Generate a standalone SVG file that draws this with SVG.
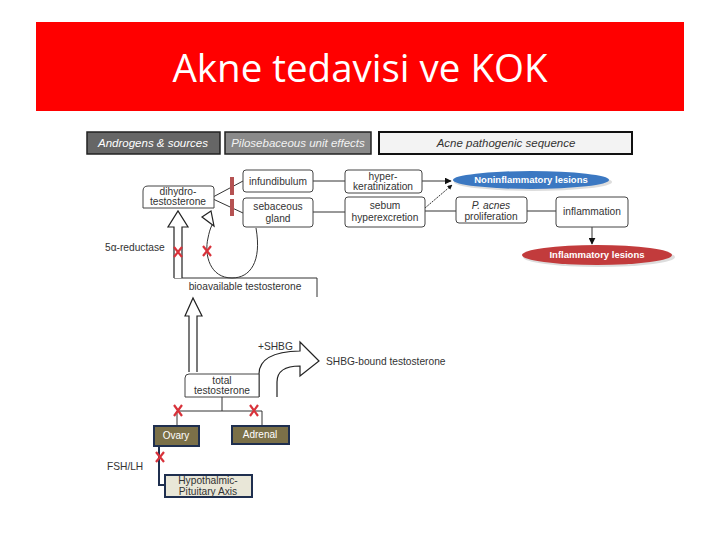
<svg xmlns="http://www.w3.org/2000/svg" width="720" height="540" viewBox="0 0 720 540">
<style>
.t{font-family:"Liberation Sans",Arial,sans-serif;font-size:10.2px;fill:#333;text-anchor:middle}
.tl{font-family:"Liberation Sans",Arial,sans-serif;font-size:10.2px;fill:#333}
.box{fill:#fff;stroke:#444;stroke-width:1}
.hdr{font-family:"Liberation Sans",Arial,sans-serif;font-size:11.5px;font-style:italic;text-anchor:middle}
.ln{fill:none;stroke:#333;stroke-width:1}
.hol{fill:#fff;stroke:#222;stroke-width:1.2}
.x{stroke:#d8323a;stroke-width:2.2;fill:none}
.ol{fill:#7b7048;stroke:#1f2f4f;stroke-width:2}
.ow{font-family:"Liberation Sans",Arial,sans-serif;font-size:10px;fill:#fff;text-anchor:middle}
.el{font-family:"Liberation Sans",Arial,sans-serif;font-size:9.5px;font-weight:bold;fill:#fff;text-anchor:middle}
</style>
<defs>
<marker id="ah" viewBox="0 0 10 10" refX="9" refY="5" markerWidth="7" markerHeight="7" orient="auto"><path d="M0,0 L10,5 L0,10 z" fill="#111"/></marker>
<marker id="ah2" viewBox="0 0 10 10" refX="9" refY="5" markerWidth="5" markerHeight="5" orient="auto"><path d="M0,0 L10,5 L0,10 z" fill="#111"/></marker>
</defs>
<rect width="720" height="540" fill="#fff"/>
<g id="title">
<rect x="36" y="22" width="648" height="89" fill="#ff0000"/>
<text x="360" y="82" font-family="'Open Sans','Noto Sans',sans-serif" font-size="38.5" fill="#fff" text-anchor="middle">Akne tedavisi ve KOK</text>
</g>
<g id="hdr-androgens"><rect x="87" y="132" width="133" height="22" fill="#666" stroke="#222" stroke-width="1.5"/><text class="hdr" x="153" y="147" fill="#fff">Androgens &amp; sources</text></g>
<g id="hdr-pilo"><rect x="225" y="132" width="146" height="22" fill="#8a8a8a" stroke="#222" stroke-width="1.5"/><text class="hdr" x="298" y="147" fill="#f2f2f2">Pilosebaceous unit effects</text></g>
<g id="hdr-acne"><rect x="379" y="132" width="253" height="22" fill="#f3f3f3" stroke="#111" stroke-width="2"/><text class="hdr" x="506" y="147" fill="#333">Acne pathogenic sequence</text></g>

<g id="connectors">
<line class="ln" x1="213" y1="197" x2="243" y2="181"/>
<line class="ln" x1="213" y1="199" x2="243" y2="213"/>
<line class="ln" x1="313" y1="181" x2="345" y2="181"/>
<line class="ln" x1="313" y1="212" x2="345" y2="212"/>
<line class="ln" x1="422" y1="181" x2="451" y2="181" marker-end="url(#ah)"/>
<line class="ln" x1="425" y1="208" x2="452" y2="185" stroke-dasharray="2,1" marker-end="url(#ah2)"/>
<line class="ln" x1="425" y1="211" x2="456" y2="211"/>
<line class="ln" x1="527" y1="211" x2="556" y2="211"/>
<line class="ln" x1="592" y1="227" x2="592" y2="244" marker-end="url(#ah)"/>
<path class="ln" d="M174,278 L317,278 L317,297"/>
<path class="hol" d="M174,278 L174,227 L168,227 L178,211 L188,227 L182,227 L182,278"/>
<path class="ln" d="M256,228 C262,262 250,278 232,278 C210,278 204,255 208,238 C209,233 210,229 212,225"/>
<path class="hol" d="M202,217 L211,211 L214,226 z"/>
<path class="hol" d="M189,372 L189,316 L185,316 L193,298 L202,316 L197,316 L197,372"/>
<path class="hol" d="M259,397 L259,374 Q259,352 300,351 L300,342 L319,361 L300,376 L300,366 Q277,366 277,382 L277,397"/>
<path class="ln" d="M222,397 L222,411 M177,411 L262,411 M177,411 L177,426 M262,411 L262,426" stroke="#1f2f4f"/>
<path d="M159,446 L159,485 L165,485" fill="none" stroke="#1f2f4f" stroke-width="2"/>
</g>

<g id="bars"><rect x="230" y="177" width="4" height="18" fill="#b55252"/><rect x="230" y="199" width="4" height="17" fill="#b55252"/></g>
<g id="xs">
<path class="x" d="M174,247 L182,257 M182,247 L174,257"/>
<path class="x" d="M203,246 L211,256 M211,246 L203,256"/>
<path class="x" d="M174,405 L182,416 M182,405 L174,416"/>
<path class="x" d="M250,405 L258,416 M258,405 L250,416"/>
<path class="x" d="M156,452 L164,462 M164,452 L156,462"/>
</g>

<g id="dht"><path class="box" d="M148,186 L211,186 Q214,186 214,189 L214,208 L143,208 L143,191 Q143,186 148,186 z"/><text class="t" x="178" y="195">dihydro-</text><text class="t" x="178" y="205">testosterone</text></g>
<g id="infundibulum"><rect class="box" x="243" y="170" width="70" height="22" rx="3"/><text class="t" x="278" y="185">infundibulum</text></g>
<g id="sebaceous"><rect class="box" x="243" y="198" width="70" height="29" rx="3"/><text class="t" x="278" y="210">sebaceous</text><text class="t" x="278" y="222">gland</text></g>
<g id="hyperk"><rect class="box" x="345" y="170" width="77" height="23" rx="3"/><text class="t" x="383" y="180">hyper-</text><text class="t" x="383" y="190">keratinization</text></g>
<g id="sebum"><rect class="box" x="345" y="197" width="80" height="30" rx="3" stroke="#999"/><text class="t" x="385" y="209">sebum</text><text class="t" x="385" y="221">hyperexcretion</text></g>
<g id="nonin"><ellipse cx="533" cy="182" rx="79" ry="9" fill="#bbb" opacity="0.5"/><ellipse cx="531" cy="180" rx="78" ry="9" fill="#3b78c2"/><text class="el" x="531" y="183">Noninflammatory lesions</text></g>
<g id="pacnes"><rect class="box" x="456" y="197" width="71" height="26" rx="3"/><text class="t" x="491" y="209"><tspan font-style="italic">P. acnes</tspan></text><text class="t" x="491" y="220">proliferation</text></g>
<g id="inflammation"><rect class="box" x="556" y="197" width="72" height="30" rx="3"/><text class="t" x="592" y="215">inflammation</text></g>
<g id="infl-lesions"><ellipse cx="599" cy="257" rx="76" ry="10" fill="#bbb" opacity="0.5"/><ellipse cx="597" cy="255" rx="75" ry="10" fill="#c23b3c"/><text class="el" x="597" y="258">Inflammatory lesions</text></g>
<g id="reductase"><text class="tl" x="105" y="251">5α-reductase</text></g>
<g id="bioavailable"><text class="t" x="245" y="290">bioavailable testosterone</text></g>
<g id="total"><path class="box" d="M189,374 L259,374 L259,397 L185,397 L185,378 Q185,374 189,374 z"/><text class="t" x="222" y="384">total</text><text class="t" x="222" y="394">testosterone</text></g>
<g id="shbg"><text class="tl" x="258" y="350">+SHBG</text><text class="tl" x="326" y="365">SHBG-bound testosterone</text></g>
<g id="ovary"><rect class="ol" x="154" y="426" width="45" height="20"/><text class="ow" x="176" y="439">Ovary</text></g>
<g id="adrenal"><rect class="ol" x="232" y="426" width="57" height="18"/><text class="ow" x="260" y="438">Adrenal</text></g>
<g id="fshlh"><text class="tl" x="107" y="470">FSH/LH</text></g>
<g id="hpa"><rect x="165" y="475" width="87" height="22" fill="#e9e7d8" stroke="#1f2f4f" stroke-width="2"/><text class="t" x="208" y="484">Hypothalmic-</text><text class="t" x="208" y="495">Pituitary Axis</text></g>
</svg>
